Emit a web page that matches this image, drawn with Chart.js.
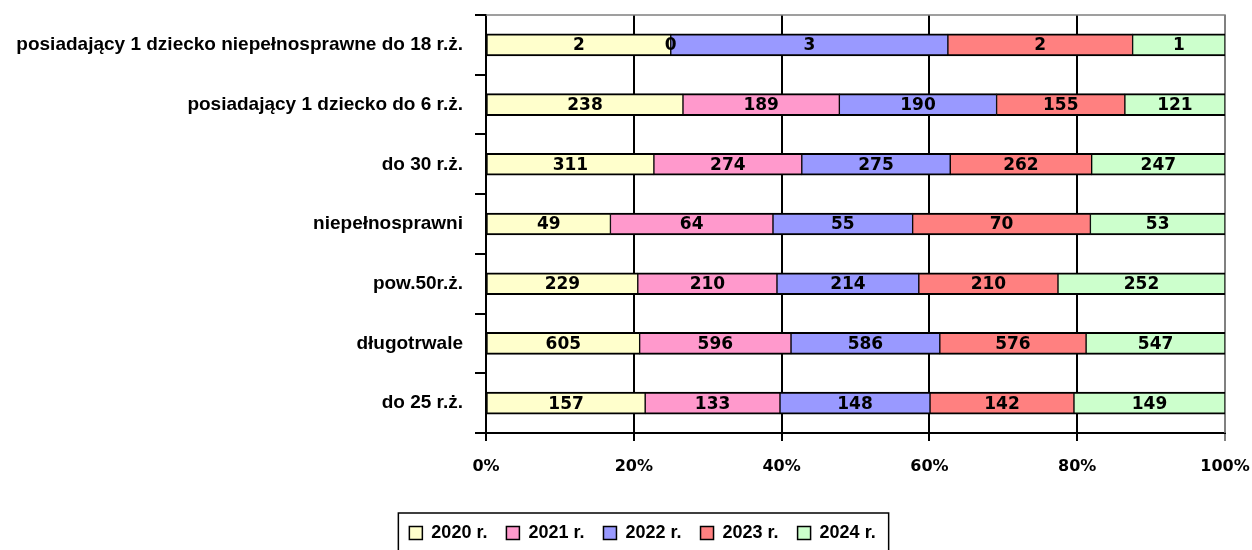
<!DOCTYPE html>
<html>
<head>
<meta charset="utf-8">
<script src="https://cdn.jsdelivr.net/npm/chart.js@4"></script>
<style>
  html, body { margin: 0; padding: 0; background: #fff; }
</style>
</head>
<body>
<canvas id="chart" width="1252" height="550"></canvas>
<script>
const categories = [
  'posiadający 1 dziecko niepełnosprawne do 18 r.ż.',
  'posiadający 1 dziecko do 6 r.ż.',
  'do 30 r.ż.',
  'niepełnosprawni',
  'pow.50r.ż.',
  'długotrwale',
  'do 25 r.ż.'
];
const years = ['2020 r.', '2021 r.', '2022 r.', '2023 r.', '2024 r.'];
const v2020 = [2, 238, 311, 49, 229, 605, 157];
const v2021 = [0, 189, 274, 64, 210, 596, 133];
const v2022 = [3, 190, 275, 55, 214, 586, 148];
const v2023 = [2, 155, 262, 70, 210, 576, 142];
const v2024 = [1, 121, 247, 53, 252, 547, 149];
const xTickLabels = ['0%', '20%', '40%', '60%', '80%', '100%'];

const series = [v2020, v2021, v2022, v2023, v2024];
const colors = ['#ffffcc', '#ff99cc', '#9999ff', '#ff8080', '#ccffcc'];

const textFont = '"Liberation Sans", Arial, sans-serif';
const numFont = '"DejaVu Sans", sans-serif';

// 100% stacked: share of each year in the row total
const totals = categories.map((c, j) => series.reduce((s, arr) => s + arr[j], 0));

const datasets = series.map((arr, i) => ({
  label: years[i],
  raw: arr,
  data: arr.map((v, j) => v / totals[j] * 100),
  backgroundColor: colors[i],
  borderColor: '#000',
  borderWidth: { top: 2, bottom: 2, left: 1, right: 1 },
  borderSkipped: false,
  barThickness: 22
}));

const valueLabels = {
  id: 'valueLabels',
  afterDatasetsDraw(chart) {
    const c = chart.ctx;
    c.save();
    c.font = 'bold 17px ' + numFont;
    c.fillStyle = '#000';
    c.textAlign = 'center';
    c.textBaseline = 'middle';
    chart.data.datasets.forEach((ds, i) => {
      chart.getDatasetMeta(i).data.forEach((bar, j) => {
        const p = bar.getProps(['x', 'y', 'base'], true);
        c.fillText(String(ds.raw[j]), (p.x + p.base) / 2, p.y + 1);
      });
    });
    c.restore();
  }
};

const noPad = (scale) => {
  scale.paddingLeft = 0;
  scale.paddingRight = 0;
  scale.paddingTop = 0;
  scale.paddingBottom = 0;
};

const frame = {
  id: 'frame',
  afterLayout(chart) {
    chart.legend.left += 30;
    chart.legend.right += 30;
  },
  beforeDatasetsDraw(chart) {
    const a = chart.chartArea;
    const c = chart.ctx;
    c.save();
    c.strokeStyle = '#808080';
    c.lineWidth = 1.5;
    c.beginPath();
    c.moveTo(a.left, a.top);
    c.lineTo(a.right, a.top);
    c.lineTo(a.right, a.bottom);
    c.stroke();
    c.restore();
  },
  afterDraw(chart) {
    const lg = chart.legend;
    const pad = lg.options.labels.padding;
    const lw = lg.lineWidths[0];
    const start = (lg.left + pad + lg.right - lw) / 2;
    const end = start + lw - pad;
    const c = chart.ctx;
    c.save();
    c.strokeStyle = '#000';
    c.lineWidth = 1.5;
    c.strokeRect(start - 11, lg.top + pad - 11, end - start + 24, 60);
    c.restore();
  }
};

new Chart(document.getElementById('chart'), {
  type: 'bar',
  data: { labels: categories, datasets: datasets },
  options: {
    responsive: false,
    animation: false,
    indexAxis: 'y',
    layout: { padding: { top: 15, right: 27, left: 0, bottom: -2 } },
    scales: {
      x: {
        stacked: true,
        min: 0,
        max: 100,
        ticks: {
          stepSize: 20,
          padding: 16,
          color: '#000',
          font: { family: numFont, size: 16, weight: 'bold' },
          callback: (v, i) => xTickLabels[i]
        },
        grid: {
          color: (ctx) => (ctx.tick && ctx.tick.value === 100 ? '#808080' : '#000'),
          lineWidth: 2,
          tickLength: 8
        },
        border: { color: '#000', width: 2 },
        afterFit: (scale) => { scale.height = 72; noPad(scale); }
      },
      y: {
        stacked: true,
        ticks: {
          padding: 12,
          color: '#000',
          font: { family: textFont, size: 19, weight: 'bold' }
        },
        grid: {
          drawOnChartArea: false,
          color: '#000',
          lineWidth: 2,
          tickLength: 11
        },
        border: { color: '#000', width: 2 },
        afterFit: (scale) => { scale.width = 486; noPad(scale); }
      }
    },
    plugins: {
      legend: {
        position: 'bottom',
        labels: {
          boxWidth: 13,
          boxHeight: 13,
          padding: 19,
          color: '#000',
          font: { family: textFont, size: 18, weight: 'bold' }
        }
      },
      tooltip: { enabled: false }
    }
  },
  plugins: [valueLabels, frame]
});
</script>
</body>
</html>
